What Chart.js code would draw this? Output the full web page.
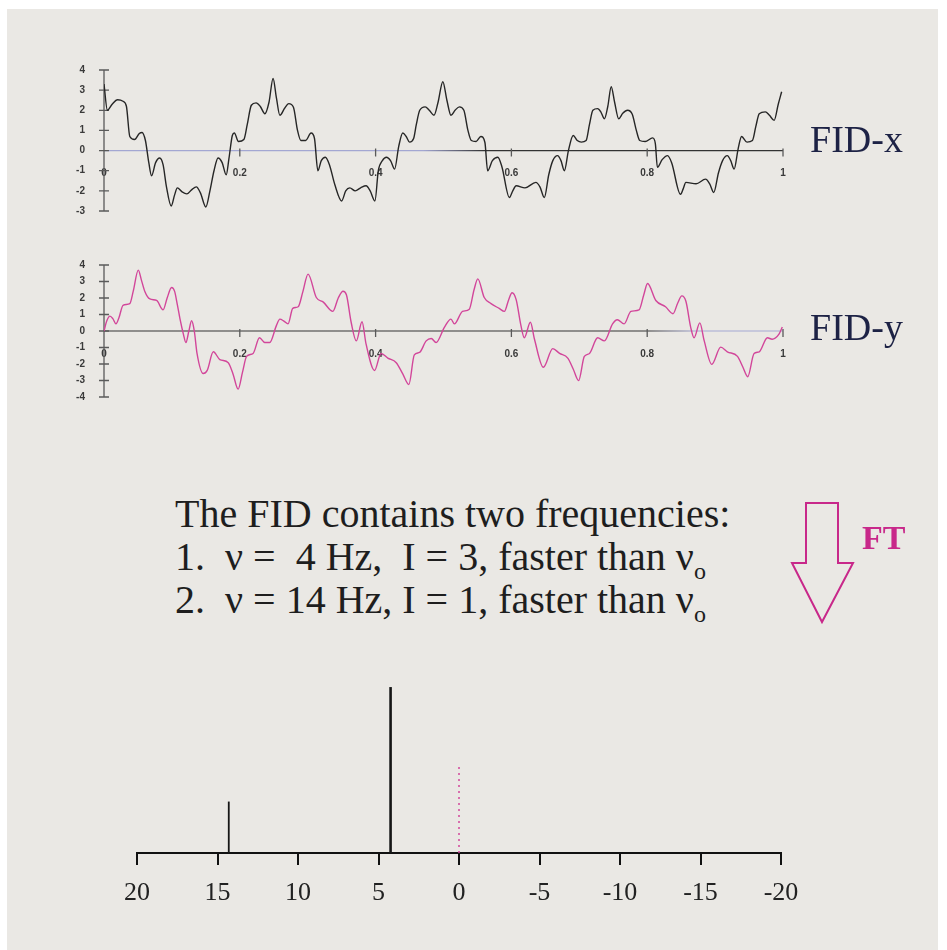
<!DOCTYPE html>
<html>
<head>
<meta charset="utf-8">
<script src="https://cdn.jsdelivr.net/npm/chart.js@4.4.0/dist/chart.umd.min.js"></script>
<style>
  body { margin: 0; background: #fff; width: 947px; height: 950px; overflow: hidden; position: relative; }
  #paper { position: absolute; left: 7px; top: 9px; width: 931px; height: 941px; background: #eae8e4; }
  canvas { position: absolute; left: 0; }
  .serif { position: absolute; font-family: "Liberation Serif", "DejaVu Serif", serif; white-space: pre; line-height: 1; }
  .fid { font-size: 38px; color: #1d2245; left: 810px; }
  .line { font-size: 40px; color: #1e1e1e; left: 175px; }
  .line sub { font-size: 24px; vertical-align: -9px; }
  #ft { font-size: 34px; font-weight: bold; color: #c8288a; left: 862px; top: 521px; }
  #arrow { position: absolute; left: 0; top: 0; }
</style>
</head>
<body>
<div id="paper"></div>
<canvas id="fidx" width="947" height="240" style="top:0"></canvas>
<canvas id="fidy" width="947" height="200" style="top:240px"></canvas>
<canvas id="spec" width="947" height="310" style="top:640px"></canvas>

<div class="serif fid" style="top:120px">FID-x</div>
<div class="serif fid" style="top:308px">FID-y</div>

<div class="serif line" style="top:494px">The FID contains two frequencies:</div>
<div class="serif line" style="top:537px">1.  ν =  4 Hz,  I = 3, faster than ν<sub>o</sub></div>
<div class="serif line" style="top:580px">2.  ν = 14 Hz, I = 1, faster than ν<sub>o</sub></div>

<svg id="arrow" width="947" height="950">
  <polygon points="806,503 838,503 838,563 853,563 822,622 792,563 806,563"
           fill="none" stroke="#c8288a" stroke-width="2"/>
</svg>
<div class="serif" id="ft">FT</div>

<script>
// FID-x trace (time in s, signal)
const fidXTime = [0.000, 0.005, 0.012, 0.020, 0.028, 0.033, 0.038, 0.045, 0.052, 0.056, 0.061, 0.066, 0.070, 0.076, 0.082, 0.087, 0.092, 0.099, 0.104, 0.108,
  0.115, 0.122, 0.129, 0.136, 0.142, 0.150, 0.156, 0.162, 0.168, 0.174, 0.180, 0.184, 0.189, 0.192, 0.198, 0.206, 0.211, 0.217, 0.224, 0.230,
  0.237, 0.243, 0.249, 0.254, 0.259, 0.266, 0.272, 0.279, 0.285, 0.290, 0.297, 0.305, 0.310, 0.315, 0.320, 0.326, 0.332, 0.340, 0.350, 0.356,
  0.362, 0.370, 0.378, 0.386, 0.392, 0.399, 0.404, 0.410, 0.416, 0.422, 0.428, 0.434, 0.440, 0.445, 0.450, 0.456, 0.460, 0.465, 0.473, 0.479,
  0.486, 0.492, 0.499, 0.505, 0.511, 0.517, 0.5235, 0.530, 0.536, 0.541, 0.548, 0.555, 0.561, 0.565, 0.572, 0.580, 0.586, 0.597, 0.602, 0.607,
  0.620, 0.636, 0.642, 0.6485, 0.655, 0.661, 0.668, 0.673, 0.678, 0.684, 0.691, 0.697, 0.703, 0.710, 0.715, 0.720, 0.727, 0.732, 0.737, 0.742,
  0.747, 0.752, 0.758, 0.764, 0.771, 0.778, 0.784, 0.789, 0.797, 0.808, 0.812, 0.815, 0.822, 0.830, 0.836, 0.849, 0.853, 0.857, 0.872, 0.886,
  0.892, 0.898, 0.905, 0.911, 0.918, 0.923, 0.928, 0.934, 0.939, 0.947, 0.955, 0.960, 0.965, 0.974, 0.980, 0.987, 0.993, 0.998];
const fidXValue = [3.3, 2.0, 2.3, 2.52, 2.45, 2.2, 0.7, 0.55, 0.85, 0.9, 0.5, -0.6, -1.25, -0.6, -0.37, -0.7, -1.8, -2.75, -2.2, -1.85,
  -2.05, -2.15, -1.95, -1.8, -2.1, -2.8, -2.0, -1.0, -0.37, -0.6, -1.2, -0.4, 0.75, 0.87, 0.45, 0.55, 1.3, 2.25, 2.37, 2.2,
  1.83, 2.4, 3.58, 2.6, 1.75, 2.1, 2.33, 2.15, 1.0, 0.5, 0.5, 0.87, 0.6, -1.0, -0.5, -0.33, -0.7, -1.7, -2.5, -2.0,
  -1.85, -2.0, -1.85, -1.75, -2.0, -2.5, -1.0, -0.5, -0.33, -0.5, -0.92, 0.2, 0.87, 0.7, 0.42, 0.6, 1.3, 2.0, 2.17, 2.0,
  1.75, 2.4, 3.42, 2.5, 1.75, 2.0, 2.17, 2.0, 1.0, 0.5, 0.45, 0.7, 0.4, -1.0, -0.5, -0.33, -0.8, -2.33, -2.0, -1.75,
  -1.85, -1.58, -1.8, -2.33, -1.2, -0.5, -0.25, -0.5, -1.0, 0.0, 0.75, 0.5, 0.42, 0.5, 1.3, 2.0, 2.08, 1.9, 1.58, 2.2,
  3.17, 2.4, 1.58, 1.85, 2.0, 1.8, 1.0, 0.5, 0.45, 0.63, 0.35, -0.83, -0.45, -0.25, -0.6, -2.17, -1.9, -1.58, -1.65, -1.42,
  -1.65, -2.08, -1.1, -0.5, -0.25, -0.5, -0.92, 0.1, 0.7, 0.42, 0.5, 1.2, 1.83, 1.92, 1.75, 1.5, 2.3, 2.92];

// FID-y trace
const fidYTime = [0.000, 0.004, 0.0088, 0.013, 0.0176, 0.022, 0.028, 0.038, 0.043, 0.0505, 0.055, 0.060, 0.0676, 0.0775, 0.087, 0.093, 0.0995, 0.104, 0.108, 0.112,
  0.117, 0.1206, 0.125, 0.129, 0.133, 0.137, 0.146, 0.152, 0.161, 0.1706, 0.183, 0.190, 0.1975, 0.204, 0.210, 0.2196, 0.229, 0.2368, 0.244, 0.254,
  0.259, 0.265, 0.271, 0.278, 0.286, 0.293, 0.3005, 0.3127, 0.323, 0.337, 0.345, 0.352, 0.357, 0.364, 0.3716, 0.380, 0.386, 0.3985, 0.408, 0.418,
  0.4304, 0.440, 0.449, 0.457, 0.4647, 0.4745, 0.482, 0.489, 0.5015, 0.511, 0.516, 0.528, 0.538, 0.545, 0.5505, 0.560, 0.570, 0.582, 0.5897, 0.596,
  0.601, 0.607, 0.614, 0.619, 0.628, 0.634, 0.647, 0.661, 0.671, 0.683, 0.691, 0.699, 0.7074, 0.715, 0.727, 0.737, 0.749, 0.756, 0.766, 0.776,
  0.788, 0.795, 0.8005, 0.8127, 0.827, 0.838, 0.845, 0.851, 0.857, 0.864, 0.869, 0.8775, 0.884, 0.8951, 0.9083, 0.918, 0.933, 0.941, 0.948, 0.9574,
  0.965, 0.977, 0.984, 0.9941, 0.999];
const fidYValue = [0.0, 0.6, 0.9, 0.75, 0.43, 0.8, 1.56, 1.66, 2.4, 3.69, 3.1, 2.41, 1.94, 1.85, 1.28, 2.0, 2.64, 2.4, 1.6, 0.72,
  -0.2, -0.7, 0.0, 0.62, 0.0, -1.36, -2.58, -2.39, -1.26, -1.73, -1.92, -2.6, -3.52, -2.49, -1.54, -1.36, -0.41, -0.7, -0.7, 0.34,
  0.72, 0.6, 0.43, 1.37, 1.47, 2.4, 3.45, 2.03, 1.75, 1.19, 2.0, 2.41, 2.2, 0.53, -0.6, 0.56, -0.8, -2.39, -1.36, -1.64,
  -1.92, -2.6, -3.24, -1.45, -1.3, -0.6, -0.45, -0.7, 0.24, 0.72, 0.43, 1.19, 1.32, 2.5, 3.16, 2.03, 1.66, 1.37, 1.19, 1.9,
  2.32, 1.9, 0.34, -0.41, 0.53, -0.5, -2.2, -1.07, -1.36, -1.64, -2.3, -3.01, -1.54, -1.36, -0.41, -0.6, 0.43, 0.68, 0.43, 1.19,
  1.28, 2.2, 2.88, 1.85, 1.47, 1.05, 1.7, 2.13, 1.8, 0.24, -0.41, 0.49, -0.6, -2.02, -0.98, -1.26, -1.54, -2.2, -2.77, -1.36,
  -1.26, -0.41, -0.5, -0.19, 0.24];

// spectrum (Hz, intensity)
const peakFreq = [14.3, 4.25];
const peakHeight = [0.93, 3.0];
const refFreq = 0;
const refHeight = 1.56;
const specTicks = [20, 15, 10, 5, 0, -5, -10, -15, -20];

const stemWidths = [1.8, 2.6];
const magenta = '#d2469a';
const bluish = '#a3a7d2';

// zero line + y axis with crossing ticks + small x ticks
const fidAxes = {
  id: 'fidAxes',
  beforeDatasetsDraw(chart, args, opts) {
    const { ctx, scales: { x, y } } = chart;
    const y0 = y.getPixelForValue(0);
    const xa = x.getPixelForValue(0);
    const xb = x.getPixelForValue(1);
    ctx.save();
    const grad = ctx.createLinearGradient(xa, 0, xb, 0);
    opts.zeroStops.forEach(s => grad.addColorStop(s[0], s[1]));
    ctx.strokeStyle = grad;
    ctx.lineWidth = 1.2;
    ctx.beginPath();
    ctx.moveTo(xa, y0);
    ctx.lineTo(xb, y0);
    ctx.stroke();

    ctx.strokeStyle = '#5a5a5a';
    ctx.lineWidth = 1.3;
    ctx.beginPath();
    ctx.moveTo(xa, y.getPixelForValue(y.max));
    ctx.lineTo(xa, y.getPixelForValue(y.min));
    y.ticks.forEach(t => {
      const py = y.getPixelForValue(t.value);
      ctx.moveTo(xa - 5, py);
      ctx.lineTo(xa + 5, py);
    });
    x.ticks.forEach(t => {
      if (t.value === 0) return;
      const px = x.getPixelForValue(t.value);
      ctx.moveTo(px, y0 - 2);
      ctx.lineTo(px, y0 + 6);
    });
    ctx.stroke();
    ctx.restore();
  }
};

const smallFont = { family: 'Liberation Sans', size: 10, weight: 'bold' };

function makeFid(id, times, values, color, yMin, yMax, stops, pad) {
  new Chart(document.getElementById(id), {
    type: 'line',
    data: {
      datasets: [{
        data: times.map((t, i) => ({ x: t, y: values[i] })),
        borderColor: color,
        borderWidth: 1.4,
        pointRadius: 0,
        cubicInterpolationMode: 'monotone'
      }]
    },
    options: {
      responsive: false,
      animation: false,
      layout: { padding: pad },
      plugins: { legend: { display: false }, tooltip: { enabled: false }, fidAxes: { zeroStops: stops } },
      scales: {
        x: {
          type: 'linear', min: 0, max: 1, position: { y: 0 },
          ticks: {
            stepSize: 0.2, padding: 17, color: '#3a3a3a', font: smallFont, maxRotation: 0,
            callback: v => String(Math.round(v * 10) / 10)
          },
          grid: { display: false, drawTicks: false },
          border: { display: false }
        },
        y: {
          min: yMin, max: yMax,
          ticks: { stepSize: 1, padding: 19, color: '#3a3a3a', font: smallFont },
          grid: { display: false, drawTicks: false },
          border: { display: false },
          afterFit(s) { s.width = 40; }
        }
      }
    },
    plugins: [fidAxes]
  });
}

makeFid('fidx', fidXTime, fidXValue, '#262626', -3, 4,
  [[0, bluish], [0.47, bluish], [0.56, '#333'], [1, '#333']],
  { left: 64, right: 164, top: 70, bottom: 29 });

makeFid('fidy', fidYTime, fidYValue, magenta, -4, 4,
  [[0, '#333'], [0.8, '#333'], [0.87, bluish], [1, bluish]],
  { left: 64, right: 164, top: 19, bottom: 43 });

// stick spectrum
const stems = peakFreq.map((f, i) => ({
  data: [{ x: f, y: 0 }, { x: f, y: peakHeight[i] }],
  borderColor: '#161616',
  borderWidth: stemWidths[i],
  pointRadius: 0
}));
stems.push({
  data: [{ x: refFreq, y: 0 }, { x: refFreq, y: refHeight }],
  borderColor: magenta,
  borderWidth: 1.5,
  borderDash: [2, 4],
  pointRadius: 0
});

new Chart(document.getElementById('spec'), {
  type: 'line',
  data: { datasets: stems },
  options: {
    responsive: false,
    animation: false,
    layout: { padding: { left: 137, right: 166, top: 36, bottom: 37 } },
    plugins: { legend: { display: false }, tooltip: { enabled: false } },
    scales: {
      x: {
        type: 'linear', min: -20, max: 20, reverse: true,
        afterBuildTicks(s) { s.ticks = specTicks.map(v => ({ value: v })); },
        ticks: { padding: 13, color: '#222', font: { family: 'Liberation Serif', size: 26 }, maxRotation: 0 },
        grid: { drawOnChartArea: false, tickLength: 12, color: '#111', lineWidth: 2 },
        border: { color: '#111', width: 2 },
        afterFit(s) { s.height = 60; }
      },
      y: { display: false, min: 0, max: 3.2 }
    }
  }
});
</script>
</body>
</html>
